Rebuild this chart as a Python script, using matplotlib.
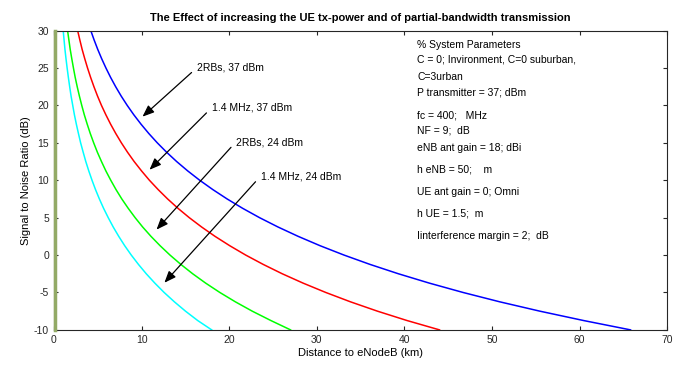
import matplotlib
matplotlib.use("Agg")
import matplotlib.pyplot as plt

plt.rcParams['font.family'] = ['Liberation Sans', 'DejaVu Sans']
plt.rcParams['axes.unicode_minus'] = False

# SNR levels (dB) and distance (km)
snr = [30, 28.75, 27.5, 26.25, 25, 23.75, 22.5, 21.25, 20, 18.75, 17.5, 16.25,
       15, 13.75, 12.5, 11.25, 10, 8.75, 7.5, 6.25, 5, 3.75, 2.5, 1.25,
       0, -1.25, -2.5, -3.75, -5, -6.25, -7.5, -8.75, -10]
d_blue = [4.2, 4.58, 4.99, 5.44, 5.93, 6.46, 7.04, 7.67, 8.36, 9.11, 9.93, 10.82,
          11.79, 12.85, 14.0, 15.26, 16.63, 18.13, 19.76, 21.53, 23.46, 25.57, 27.87, 30.37,
          33.1, 36.07, 39.31, 42.84, 46.69, 50.88, 55.46, 60.44, 65.8]
d_red = [2.7, 2.95, 3.21, 3.51, 3.83, 4.18, 4.56, 4.97, 5.42, 5.92, 6.46, 7.05,
         7.69, 8.39, 9.15, 9.99, 10.89, 11.89, 12.97, 14.15, 15.44, 16.85, 18.38, 20.06,
         21.88, 23.88, 26.05, 28.43, 31.02, 33.84, 36.92, 40.29, 44.0]
d_green = [1.55, 1.7, 1.85, 2.03, 2.22, 2.42, 2.65, 2.9, 3.17, 3.46, 3.79, 4.14,
           4.53, 4.95, 5.42, 5.92, 6.48, 7.08, 7.74, 8.47, 9.26, 10.12, 11.07, 12.11,
           13.24, 14.48, 15.83, 17.31, 18.93, 20.7, 22.63, 24.75, 27.0]
d_cyan = [1.05, 1.15, 1.25, 1.37, 1.5, 1.64, 1.79, 1.95, 2.14, 2.33, 2.55, 2.79,
          3.04, 3.33, 3.63, 3.97, 4.34, 4.74, 5.18, 5.66, 6.19, 6.76, 7.39, 8.07,
          8.82, 9.64, 10.53, 11.51, 12.57, 13.74, 15.01, 16.4, 18.0]

labels = ['2RBs, 37 dBm', '1.4 MHz, 37 dBm', '2RBs, 24 dBm', '1.4 MHz, 24 dBm']

params = ['% System Parameters',
          'C = 0; Invironment, C=0 suburban,',
          'C=3urban',
          'P transmitter = 37; dBm',
          'fc = 400;   MHz',
          'NF = 9;  dB',
          'eNB ant gain = 18; dBi',
          'h eNB = 50;    m',
          'UE ant gain = 0; Omni',
          'h UE = 1.5;  m',
          'Iinterference margin = 2;  dB']
param_y = [28.1, 26.1, 23.8, 21.7, 18.7, 16.6, 14.3, 11.4, 8.45, 5.5, 2.6]

fig = plt.figure(figsize=(6.8, 3.69), dpi=100)
ax = fig.add_axes([0.0794, 0.106, 0.902, 0.811])

ax.plot([0.15, 0.15], [-10, 30], color='#93aa66', linewidth=2.5, clip_on=False, zorder=4)
ax.plot(d_blue, snr, color='blue', linewidth=1.1)
ax.plot(d_red, snr, color='red', linewidth=1.1)
ax.plot(d_green, snr, color=(0, 1, 0), linewidth=1.1)
ax.plot(d_cyan, snr, color='cyan', linewidth=1.1)

# arrows: (tail, head), text at tail
tails = [(15.7, 24.4), (17.4, 19.0), (20.2, 14.4), (23.0, 9.8)]
heads = [(10.1, 18.5), (10.9, 11.4), (11.7, 3.4), (12.6, -3.7)]
for lab, t, h in zip(labels, tails, heads):
    ax.annotate('', xy=h, xytext=t,
                arrowprops=dict(arrowstyle='-|>,head_length=0.7,head_width=0.28',
                                color='black', lw=0.9, shrinkA=0, shrinkB=0))
    ax.text(t[0] + 0.6, t[1] + 0.7, lab, fontsize=7.5, ha='left', va='center')

for s, y in zip(params, param_y):
    ax.text(41.45, y, s, fontsize=7.5, ha='left', va='center')

ax.set_xlim(0, 70)
ax.set_ylim(-10, 30)
ax.set_xticks(range(0, 71, 10))
ax.set_yticks(range(-10, 31, 5))
ax.tick_params(direction='in', top=True, right=True, labelsize=7.5, length=3,
               colors='#262626')
for sp in ax.spines.values():
    sp.set_color('#262626')
    sp.set_linewidth(0.8)

ax.set_xlabel('Distance to eNodeB (km)', fontsize=8, labelpad=2)
ax.set_ylabel('Signal to Noise Ratio (dB)', fontsize=8, labelpad=2)
ax.set_title('The Effect of increasing the UE tx-power and of partial-bandwidth transmission',
             fontsize=8, fontweight='bold', pad=7)

fig.savefig('out.png', dpi=100)
